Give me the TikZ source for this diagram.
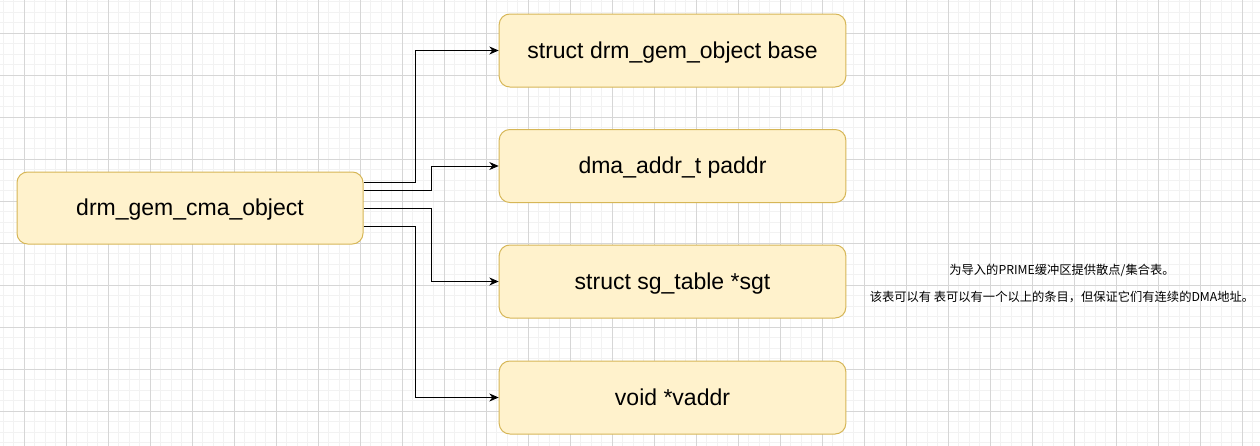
\documentclass[tikz,border=0pt]{standalone}
\usepackage{fontspec}
\setmainfont{Liberation Sans}
\newfontfamily\cjkfont{Noto Sans CJK SC}
\usetikzlibrary{arrows.meta}
\definecolor{boxfill}{HTML}{FFF2CC}
\definecolor{boxdraw}{HTML}{D6B656}
\definecolor{gridmajor}{HTML}{D6D6D6}
\definecolor{gridminor}{HTML}{F2F2F2}
\tikzset{
  field/.style={draw=boxdraw, fill=boxfill, line width=0.75pt, rounded corners=8pt,
    minimum width=260pt, minimum height=54.75pt, inner sep=0pt,
    text height=15.6pt, text depth=3.66pt,
    font=\fontsize{17.25}{20}\selectfont},
  mainbox/.style={field, minimum width=259.5pt, minimum height=54pt},
  conn/.style={draw=black, line width=0.75pt, -{Stealth[length=7pt,width=6pt,inset=2.2pt]}},
  notetext/.style={font=\cjkfont\fontsize{9.2}{11}\selectfont, inner sep=0pt},
  minorline/.style={draw=gridminor, line width=0.75pt},
  majorline/.style={draw=gridmajor, line width=0.75pt}
}
\begin{document}
\begin{tikzpicture}[x=0.75pt,y=-0.75pt]
\useasboundingbox (0,0) rectangle (1260,446);
\fill[white] (0,0) rectangle (1260,446);
% grid
\foreach \i in {0,...,120} {\draw[minorline] ({3+\i*10.5},0) -- ({3+\i*10.5},446);}
\foreach \i in {0,...,42} {\draw[minorline] (0,{1.5+\i*10.5}) -- (1260,{1.5+\i*10.5});}
\foreach \i in {0,...,29} {\draw[majorline] ({24+\i*42},0) -- ({24+\i*42},446);}
\foreach \i in {0,...,9} {\draw[majorline] (0,{33+\i*42}) -- (1260,{33+\i*42});}
% nodes
\node[mainbox] (main) at (190,208) {drm\_gem\_cma\_object};
\node[field] (b1) at (672.5,50.5) {struct drm\_gem\_object base};
\node[field] (b2) at (672.5,166) {dma\_addr\_t paddr};
\node[field] (b3) at (672.5,281.5) {struct sg\_table *sgt};
\node[field] (b4) at (672.5,397.5) {void *vaddr};
\node[notetext] (n1) at (1062,270) {为导入的PRIME缓冲区提供散点/集合表。};
\node[notetext] (n2) at (1062,297) {该表可以有 表可以有一个以上的条目，但保证它们有连续的DMA地址。};
% connectors
\coordinate (y1) at (0,182);
\coordinate (y2) at (0,190);
\coordinate (y3) at (0,208);
\coordinate (y4) at (0,226);
\coordinate (x1) at (415,0);
\coordinate (x2) at (431,0);
\draw[conn] (main.east |- y1) -| (x1 |- b1.west) -- (b1.west);
\draw[conn] (main.east |- y2) -| (x2 |- b2.west) -- (b2.west);
\draw[conn] (main.east |- y3) -| (x2 |- b3.west) -- (b3.west);
\draw[conn] (main.east |- y4) -| (x1 |- b4.west) -- (b4.west);
\end{tikzpicture}
\end{document}
